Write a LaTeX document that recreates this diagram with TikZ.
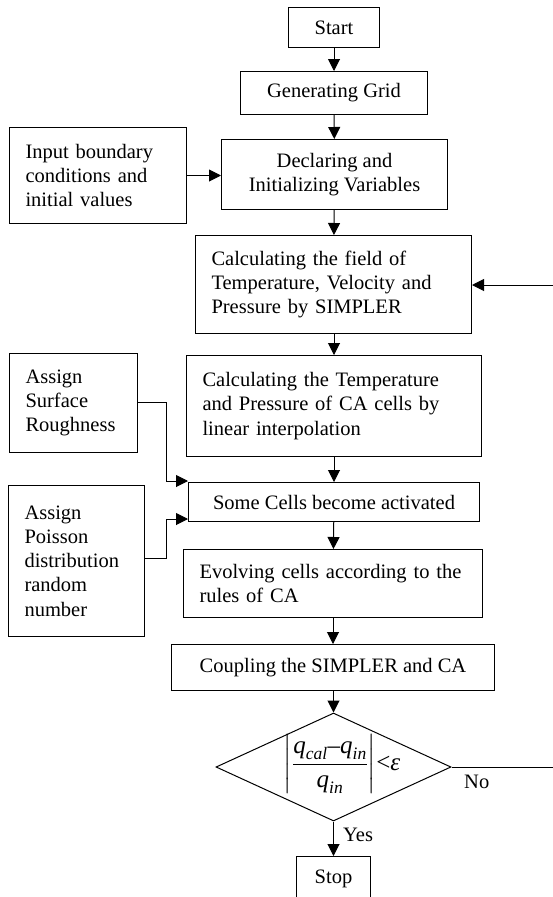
\documentclass[tikz,border=0pt]{standalone}
\usepackage{amsmath}
\usepackage{fontspec}
\setmainfont{Liberation Serif}
\usetikzlibrary{arrows.meta,shapes.geometric,calc}
\begin{document}
\begin{tikzpicture}[x=1pt,y=-1pt,
  every node/.style={font=\fontsize{20.5}{24.3}\selectfont},
  box/.style={draw,line width=1pt,rectangle,anchor=north west,inner ysep=0pt,minimum height=#1},
  cbox/.style={box=#1,align=center,inner xsep=0pt},
  lbox/.style={box=#1,align=left,inner xsep=16pt},
  arr/.style={line width=1pt,-{Triangle[length=12pt,width=12pt]}},
  lbl/.style={inner sep=0pt,anchor=base west}]
\useasboundingbox (0,0) rectangle (553,897);
% boxes
\node[cbox=40pt,minimum width=91pt] (start) at (288,7) {Start};
\node[cbox=43pt,minimum width=187pt] (grid) at (240,71) {Generating Grid};
\node[lbox=96pt,text width=145pt] (input) at (9,127) {Input boundary\\conditions and\\initial values};
\node[cbox=70pt,minimum width=226pt] (decl) at (221,139) {Declaring and\\Initializing Variables};
\node[lbox=98pt,text width=244pt] (field) at (195,235) {Calculating the field of\\Temperature, Velocity and\\Pressure by SIMPLER};
\node[lbox=101pt,text width=263pt] (temp) at (186,355) {Calculating the Temperature\\and Pressure of CA cells by\\linear interpolation};
\node[lbox=99pt,text width=96pt] (surf) at (9,353) {Assign\\Surface\\Roughness};
\node[cbox=39pt,minimum width=291pt] (some) at (188,482) {Some Cells become activated};
\node[lbox=151pt,text width=104pt] (pois) at (8,485) {Assign\\Poisson\\distribution\\random\\number};
\node[lbox=68pt,text width=267pt] (evol) at (183,549) {Evolving cells according to the\\rules of CA};
\node[cbox=46pt,minimum width=323pt] (coup) at (171,644) {Coupling the SIMPLER and CA};
\node[draw,line width=1pt,diamond,minimum width=235pt,minimum height=108pt,inner sep=0pt] (dia) at (333.5,767) {};
\node[inner sep=0pt,font=\fontsize{25}{28}\selectfont] (cond) at (342,764) {$\left|\dfrac{\textit{q}_{\textit{cal}}\text{–}\textit{q}_{\textit{in}}}{\textit{q}_{\textit{in}}}\right|$<\textit{ε}};
\node[cbox=44pt,minimum width=74pt] (stop) at (296,856) {Stop};
% labels
\node[lbl] (no) at (464,788) {No};
\node[lbl] (yes) at (343,841) {Yes};
% coordinates
\coordinate (fb1) at (553.5,767);
\coordinate (fb2) at (553.5,285);
\coordinate (s1) at (166,402);
\coordinate (s2) at (166,481);
\coordinate (p1) at (166,558);
\coordinate (p2) at (166,519);
% connectors
\draw[arr] (start) -- (grid);
\draw[arr] (grid) -- (decl);
\draw[arr] (input.east) -- (decl.west |- input.east);
\draw[arr] (decl) -- (field);
\draw[arr] (field.south -| temp.north) -- (temp.north);
\draw[arr] (temp.south -| some.north) -- (some.north);
\draw[arr] (some) -- (evol);
\draw[arr] (evol.south -| coup.north) -- (coup.north);
\draw[arr] (coup.south -| dia.north) -- (dia.north);
\draw[arr] (dia.south) -- (stop.north);
\draw[arr] (dia.east) -- (fb1) -- (fb2) -- (field.east |- fb2);
\draw[arr] (surf.east |- s1) -- (s1) -- (s2) -- (some.west |- s2);
\draw[arr] (pois.east |- p1) -- (p1) -- (p2) -- (some.west |- p2);
\end{tikzpicture}
\end{document}
